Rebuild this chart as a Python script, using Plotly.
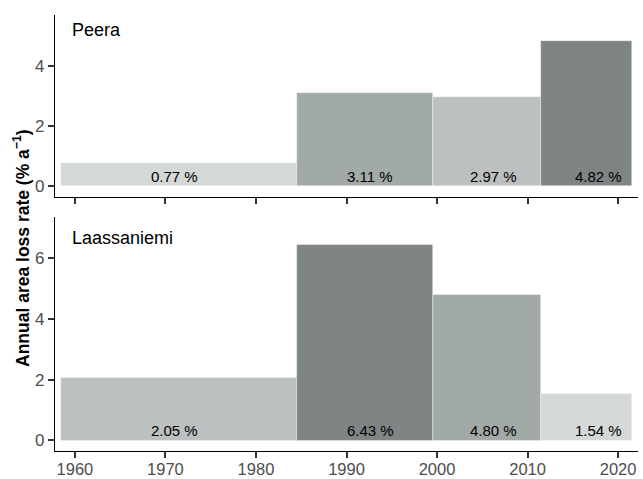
import plotly.graph_objects as go

# Periods (first and last year of each interval)
start_years = [1959, 1985, 2000, 2012]
end_years = [1984, 1999, 2011, 2021]
# x positions of the percentage labels
label_years = [1971.0, 1992.6, 2006.2, 2017.8]

peera_rates = [0.77, 3.11, 2.97, 4.82]
laass_rates = [2.05, 6.43, 4.80, 1.54]

peera_colors = ["#D4D9D8", "#A2AAA8", "#BCC0C0", "#7F8584"]
laass_colors = ["#BCC0C0", "#7F8584", "#A2AAA8", "#D4D9D8"]

site_names = ["Peera", "Laassaniemi"]
x_ticks = [1960, 1970, 1980, 1990, 2000, 2010, 2020]

lefts = [s - 0.5 for s in start_years]
rights = [e + 0.5 for e in end_years]
centers = [(l + r) / 2 for l, r in zip(lefts, rights)]
widths = [r - l for l, r in zip(lefts, rights)]

FONT = "Liberation Sans, Arial, sans-serif"

fig = go.Figure()

for rates, colors, xa, ya in [(peera_rates, peera_colors, "x", "y"),
                              (laass_rates, laass_colors, "x2", "y2")]:
    fig.add_trace(go.Bar(
        x=centers, y=rates, width=widths,
        marker=dict(color=colors, line=dict(width=0.6, color="rgba(255,255,255,0.6)")),
        xaxis=xa, yaxis=ya, showlegend=False, hoverinfo="skip",
    ))
    for lx, v in zip(label_years, rates):
        fig.add_annotation(x=lx, y=0, xref=xa, yref=ya, text=f"{v:.2f} %",
                           xanchor="center", yanchor="bottom", yshift=-1, showarrow=False,
                           font=dict(family=FONT, size=15, color="#000000"))

axis_common = dict(
    showgrid=False, zeroline=False, showline=True, linecolor="#000000", linewidth=1.3,
    ticks="outside", ticklen=6, tickwidth=2, tickcolor="#333333", automargin=False,
    tickfont=dict(family=FONT, size=17, color="#4D4D4D"),
)

fig.update_layout(
    width=643, height=479,
    margin=dict(l=55, r=5, t=15, b=28),
    paper_bgcolor="white", plot_bgcolor="white",
    bargap=0,
    xaxis=dict(**axis_common, domain=[0, 1], range=[1957.8, 2022.2],
               tickvals=x_ticks, showticklabels=False, anchor="y"),
    yaxis=dict(**axis_common, domain=[0.583, 1], range=[-0.37, 5.7],
               tickvals=[0, 2, 4], anchor="x"),
    xaxis2=dict(**axis_common, domain=[0, 1], range=[1957.8, 2022.2],
                tickvals=x_ticks, anchor="y2", ticklabelstandoff=-3),
    yaxis2=dict(**axis_common, domain=[0, 0.537], range=[-0.35, 7.36],
                tickvals=[0, 2, 4, 6], anchor="x2"),
)
fig.update_layout(xaxis2_tickfont_size=16.5)

fig.add_annotation(text=site_names[0], xref="x domain", yref="y domain", x=0.025, y=0.985,
                   xanchor="left", yanchor="top", showarrow=False,
                   font=dict(family=FONT, size=18, color="#000000"))
fig.add_annotation(text=site_names[1], xref="x2 domain", yref="y2 domain", x=0.025, y=0.963,
                   xanchor="left", yanchor="top", showarrow=False,
                   font=dict(family=FONT, size=18, color="#000000"))

fig.add_annotation(text="<b>Annual area loss rate (% a<sup>−1</sup>)</b>", xref="paper", yref="paper",
                   x=-0.058, y=0.466, xanchor="center", yanchor="middle", textangle=-90,
                   showarrow=False,
                   font=dict(family=FONT, size=17.5, color="#000000"))

fig.write_html("out.html", config={"displayModeBar": False},
               post_script="document.body.style.margin='0';document.body.style.padding='0';")
